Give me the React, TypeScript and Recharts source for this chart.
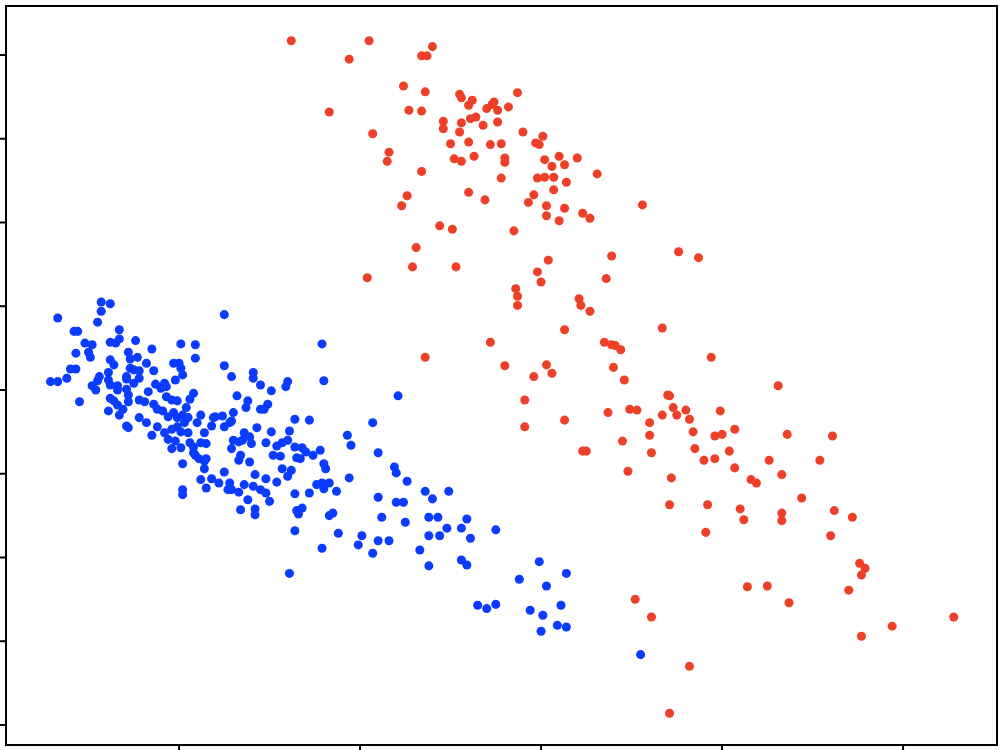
import { ScatterChart, Scatter, XAxis, YAxis, ZAxis, ReferenceArea } from "recharts";

// x/y values, in axis units (x ticks 0..4, y ticks 0..8)
const bluePoints: [number, number][] = [
  [-0.43, 5.05], [-0.38, 5.03], [-0.43, 4.94], [-0.67, 4.86], [-0.45, 4.81], [-0.58, 4.7], [-0.56, 4.7],
  [-0.33, 4.72], [-0.52, 4.56], [-0.48, 4.54], [-0.5, 4.45], [-0.57, 4.44], [-0.49, 4.39], [-0.38, 4.57],
  [-0.35, 4.56], [-0.33, 4.61], [-0.24, 4.59], [-0.15, 4.49], [0.01, 4.55], [0.09, 4.54], [-0.28, 4.45],
  [-0.27, 4.37], [-0.23, 4.39], [-0.38, 4.36], [-0.36, 4.3], [-0.27, 4.26], [-0.18, 4.32], [0.09, 4.38],
  [-0.03, 4.32], [0.0, 4.32], [-0.6, 4.25], [-0.57, 4.25], [-0.62, 4.14], [-0.71, 4.1], [-0.67, 4.1],
  [-0.14, 4.23], [-0.25, 4.24], [-0.22, 4.23], [-0.29, 4.16], [-0.29, 4.13], [-0.22, 4.14], [0.01, 4.26],
  [0.02, 4.18], [-0.02, 4.12], [-0.39, 4.21], [-0.44, 4.16], [-0.45, 4.11], [-0.48, 4.05], [-0.46, 4.0],
  [-0.39, 4.12], [-0.38, 4.06], [-0.34, 4.05], [-0.34, 4.0], [-0.29, 4.01], [-0.25, 4.08], [-0.13, 4.07],
  [-0.1, 4.02], [-0.08, 4.08], [-0.07, 4.04], [-0.17, 3.98], [-0.55, 3.86], [-0.38, 3.9], [-0.36, 3.87],
  [-0.28, 3.94], [-0.28, 3.86], [-0.22, 3.88], [-0.19, 3.86], [-0.14, 3.83], [-0.12, 3.77], [-0.07, 3.92],
  [-0.04, 3.88], [-0.01, 3.87], [0.08, 3.96], [0.06, 3.89], [0.04, 3.79], [-0.34, 3.82], [-0.31, 3.77],
  [-0.39, 3.75], [-0.33, 3.7], [-0.22, 3.67], [-0.18, 3.61], [-0.09, 3.75], [-0.06, 3.68], [-0.03, 3.73],
  [-0.01, 3.67], [0.02, 3.7], [0.05, 3.67], [0.1, 3.61], [-0.29, 3.57], [-0.28, 3.55], [-0.15, 3.46],
  [-0.12, 3.56], [-0.08, 3.49], [-0.04, 3.53], [-0.01, 3.56], [0.01, 3.5], [0.03, 3.61], [0.05, 3.49],
  [-0.06, 3.41], [-0.02, 3.39], [-0.04, 3.3], [0.01, 3.31], [0.06, 3.37], [0.08, 3.25], [0.09, 3.22],
  [0.25, 4.29], [0.29, 4.16], [0.41, 4.21], [0.41, 4.14], [0.45, 4.06], [0.51, 3.99], [0.6, 4.1],
  [0.59, 4.04], [0.79, 4.55], [0.8, 4.11], [0.32, 3.93], [0.38, 3.87], [0.37, 3.79], [0.49, 3.83],
  [0.47, 3.77], [0.45, 3.77], [0.12, 3.7], [0.19, 3.67], [0.2, 3.68], [0.24, 3.69], [0.29, 3.63],
  [0.3, 3.73], [0.25, 3.56], [0.28, 3.61], [0.18, 3.57], [0.64, 3.65], [0.72, 3.64], [0.43, 3.55],
  [0.51, 3.5], [0.61, 3.51], [0.36, 3.49], [0.39, 3.44], [0.35, 3.4], [0.4, 3.36], [0.3, 3.4],
  [0.33, 3.38], [0.48, 3.37], [0.54, 3.33], [0.57, 3.37], [0.6, 3.4], [0.64, 3.32], [0.68, 3.31],
  [0.7, 3.26], [0.74, 3.22], [0.78, 3.28], [0.29, 3.3], [0.52, 3.22], [0.56, 3.21], [0.34, 3.22],
  [0.33, 3.16], [0.39, 3.14], [0.65, 3.19], [0.67, 3.18], [0.57, 3.06], [0.62, 3.04], [0.6, 2.97],
  [0.8, 3.12], [0.81, 3.06], [0.02, 3.12], [0.08, 3.32], [0.15, 3.36], [0.11, 3.18], [0.15, 3.18],
  [0.14, 3.15], [0.14, 3.06], [0.25, 3.02], [0.12, 2.93], [0.18, 2.94], [0.22, 2.89], [0.15, 2.83],
  [0.28, 2.89], [0.29, 2.81], [0.27, 2.81], [0.02, 2.81], [0.02, 2.75], [0.36, 2.87], [0.42, 2.99],
  [0.48, 2.94], [0.41, 2.85], [0.45, 2.81], [0.48, 2.77], [0.5, 2.67], [0.38, 2.69], [0.34, 2.57],
  [0.42, 2.58], [0.42, 2.51], [0.54, 2.9], [0.64, 2.76], [0.72, 2.77], [0.76, 2.87], [0.79, 2.89],
  [0.83, 2.89], [0.8, 2.82], [0.87, 2.79], [0.65, 2.56], [0.68, 2.59], [0.66, 2.52], [0.85, 2.53],
  [0.83, 2.5], [0.14, 3.49], [0.12, 3.37], [1.07, 3.61], [0.93, 3.46], [0.95, 3.34], [1.1, 3.25],
  [1.19, 3.08], [1.2, 3.01], [0.94, 2.95], [0.33, 2.78], [1.12, 2.48], [0.64, 2.32], [0.88, 2.29],
  [1.01, 2.26], [0.99, 2.15], [1.1, 2.2], [1.16, 2.2], [1.07, 2.05], [0.79, 2.11], [0.61, 1.81],
  [1.1, 2.72], [1.2, 2.66], [1.21, 3.93], [1.26, 2.91], [1.24, 2.66], [1.36, 2.79], [1.4, 2.7],
  [1.49, 2.79], [1.25, 2.42], [1.38, 2.48], [1.43, 2.48], [1.48, 2.35], [1.56, 2.35], [1.59, 2.46],
  [1.38, 2.26], [1.44, 2.26], [1.61, 2.23], [1.75, 2.33], [1.33, 2.09], [1.38, 1.9], [1.56, 1.97],
  [1.59, 1.91], [1.88, 1.74], [1.99, 1.95], [2.03, 1.66], [2.14, 1.81], [1.65, 1.43], [1.7, 1.39],
  [1.75, 1.44], [1.94, 1.37], [2.01, 1.31], [2.11, 1.43], [2.0, 1.12], [2.09, 1.19], [2.14, 1.17],
  [2.55, 0.84], [0.25, 4.9],
];

const redPoints: [number, number][] = [
  [0.62, 8.17], [1.05, 8.17], [0.94, 7.95], [1.4, 8.1], [1.34, 7.99], [1.37, 7.99], [1.24, 7.63],
  [1.36, 7.56], [0.83, 7.32], [1.27, 7.34], [1.34, 7.33], [1.55, 7.53], [1.56, 7.49], [1.62, 7.46],
  [1.6, 7.4], [1.7, 7.36], [1.73, 7.41], [1.74, 7.44], [1.76, 7.34], [1.82, 7.38], [1.87, 7.55],
  [1.46, 7.21], [1.46, 7.12], [1.56, 7.19], [1.61, 7.24], [1.64, 7.26], [1.68, 7.16], [1.76, 7.2],
  [1.55, 7.08], [1.07, 7.06], [1.5, 6.94], [1.6, 6.96], [1.72, 6.93], [1.78, 6.94], [1.9, 7.08],
  [2.01, 7.03], [1.97, 6.95], [1.99, 6.93], [1.16, 6.84], [1.15, 6.73], [1.52, 6.76], [1.56, 6.73],
  [1.63, 6.79], [1.8, 6.77], [1.8, 6.72], [2.02, 6.75], [2.1, 6.79], [2.06, 6.67], [2.13, 6.69],
  [2.2, 6.77], [1.34, 6.61], [1.78, 6.53], [1.98, 6.53], [2.02, 6.54], [2.07, 6.54], [2.14, 6.48],
  [2.31, 6.58], [1.6, 6.36], [1.26, 6.32], [1.69, 6.27], [1.96, 6.33], [1.93, 6.24], [2.07, 6.39],
  [1.23, 6.2], [2.03, 6.2], [2.13, 6.17], [2.03, 6.08], [2.1, 6.02], [2.23, 6.11], [2.27, 6.05],
  [2.56, 6.21], [1.44, 5.96], [1.51, 5.92], [1.85, 5.9], [1.31, 5.7], [2.04, 5.55], [2.39, 5.6],
  [2.76, 5.65], [2.87, 5.58], [1.29, 5.47], [1.53, 5.47], [1.98, 5.41], [2.0, 5.29], [2.36, 5.33],
  [1.04, 5.34], [1.86, 5.21], [1.87, 5.12], [1.87, 5.01], [2.21, 5.09], [2.22, 5.01], [2.27, 4.94],
  [2.13, 4.72], [2.67, 4.74], [1.72, 4.57], [2.35, 4.57], [2.39, 4.54], [2.41, 4.53], [2.44, 4.48],
  [2.94, 4.39], [1.36, 4.39], [1.8, 4.29], [2.03, 4.3], [2.06, 4.2], [1.96, 4.16], [2.4, 4.27],
  [2.46, 4.12], [3.31, 4.05], [1.91, 3.88], [2.7, 3.94], [2.71, 3.93], [2.37, 3.73], [2.49, 3.77],
  [2.53, 3.76], [2.73, 3.79], [2.67, 3.7], [2.75, 3.7], [2.8, 3.76], [2.82, 3.65], [2.99, 3.75],
  [2.13, 3.64], [1.91, 3.56], [2.6, 3.61], [2.6, 3.46], [2.45, 3.39], [2.84, 3.5], [2.96, 3.45],
  [3.0, 3.47], [3.07, 3.53], [3.36, 3.47], [3.61, 3.45], [2.23, 3.27], [2.25, 3.27], [2.61, 3.25],
  [2.85, 3.3], [2.9, 3.16], [2.96, 3.18], [3.04, 3.27], [3.07, 3.07], [3.26, 3.16], [3.54, 3.16],
  [2.48, 3.03], [2.72, 2.95], [3.16, 2.93], [3.19, 2.89], [3.33, 2.99], [3.44, 2.71], [2.71, 2.63],
  [2.92, 2.63], [3.1, 2.58], [3.12, 2.45], [3.33, 2.53], [3.33, 2.44], [3.62, 2.56], [3.72, 2.48],
  [3.6, 2.26], [2.91, 2.3], [3.76, 1.93], [3.79, 1.87], [3.77, 1.79], [3.7, 1.61], [3.14, 1.65],
  [3.25, 1.66], [2.52, 1.5], [2.61, 1.29], [3.37, 1.46], [4.28, 1.29], [3.94, 1.18], [3.77, 1.06],
  [2.82, 0.7], [2.71, 0.14],
];

const xTicks = [0, 1, 2, 3, 4];
const yTicks = [0, 1, 2, 3, 4, 5, 6, 7, 8];
const xDomain: [number, number] = [-0.956, 4.519];
const yDomain: [number, number] = [-0.239, 8.585];

const toRows = (pts: [number, number][]) => pts.map(([x, y]) => ({ x, y }));

const blank = () => "";

export default function App() {
  return (
    <div style={{ position: "absolute", left: 0, top: 0, width: 1004, height: 750, background: "#fff" }}>
      <ScatterChart width={1004} height={750} margin={{ top: 6, right: 7, bottom: 4, left: 5 }}>
        <XAxis
          type="number"
          dataKey="x"
          domain={xDomain}
          ticks={xTicks}
          allowDataOverflow
          height={1}
          tickSize={6}
          tickFormatter={blank}
          axisLine={{ stroke: "#000", strokeWidth: 2 }}
          tickLine={{ stroke: "#000", strokeWidth: 2 }}
        />
        <YAxis
          type="number"
          dataKey="y"
          domain={yDomain}
          ticks={yTicks}
          allowDataOverflow
          width={1}
          tickSize={6}
          tickFormatter={blank}
          axisLine={{ stroke: "#000", strokeWidth: 2 }}
          tickLine={{ stroke: "#000", strokeWidth: 2 }}
        />
        <ZAxis range={[64, 64]} />
        <ReferenceArea
          x1={xDomain[0]}
          x2={xDomain[1]}
          y1={yDomain[0]}
          y2={yDomain[1]}
          fill="none"
          stroke="#000"
          strokeWidth={2}
          ifOverflow="visible"
        />
        <Scatter data={toRows(bluePoints)} fill="#0a3cff" isAnimationActive={false} />
        <Scatter data={toRows(redPoints)} fill="#ee4028" isAnimationActive={false} />
      </ScatterChart>
    </div>
  );
}
